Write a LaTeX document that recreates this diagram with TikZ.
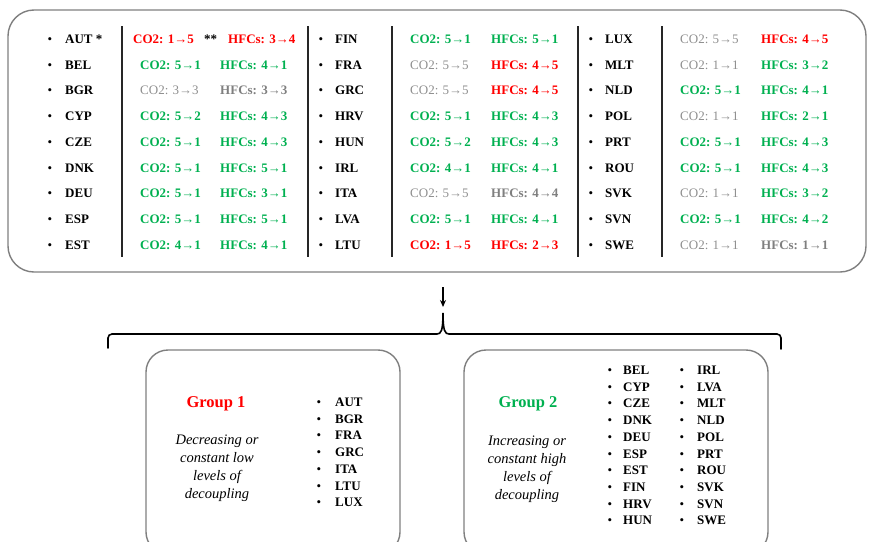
\documentclass[tikz,border=0pt]{standalone}
\usepackage{fontspec}
\setmainfont{Liberation Serif}
\usetikzlibrary{arrows.meta}
\definecolor{worsered}{HTML}{FF0000}
\definecolor{bettergreen}{HTML}{00B050}
\definecolor{samegray}{HTML}{8F8F8F}
\definecolor{samegrayb}{HTML}{7F7F7F}
\definecolor{framegray}{HTML}{7F7F7F}
\tikzset{
  cell/.style={anchor=base west, inner sep=0pt, font=\fontsize{13}{15}\selectfont\bfseries},
  worse/.style={cell, text=worsered},
  better/.style={cell, text=bettergreen},
  same/.style={cell, text=samegray, font=\fontsize{13}{15}\selectfont},
  sameb/.style={cell, text=samegrayb},
  country/.style={cell, text=black},
  dot/.style={anchor=base, inner sep=0pt, font=\fontsize{13}{15}\selectfont},
  panel/.style={draw=framegray, line width=1.4pt, rounded corners=26pt, inner sep=0pt},
  grouppanel/.style={draw=framegray, line width=1.4pt, rounded corners=22pt, inner sep=0pt},
  divider/.style={draw=black!85, line width=1.4pt},
  grouptitle/.style={anchor=center, inner sep=0pt, font=\fontsize{16.5}{18}\selectfont\bfseries},
  groupnote/.style={anchor=center, inner sep=0pt, align=center, font=\fontsize{14.5}{18}\selectfont\itshape},
  member/.style={anchor=base west, inner sep=0pt, font=\fontsize{13}{15}\selectfont\bfseries},
}
\begin{document}
\begin{tikzpicture}[x=1pt, y=-1pt]
\clip (0,0) rectangle (870,541);

% outer panel holding the country table
\node[panel, minimum width=858pt, minimum height=262pt] (table) at (437,141) {};

% column dividers
\foreach \xx/\nm in {122/d1, 308/d2, 392/d3, 578/d4, 662/d5} {
  \coordinate (\nm t) at (\xx,26);
  \coordinate (\nm b) at (\xx,257);
  \draw[divider] (\nm t) -- (\nm b);
}

% first row, with footnote marks
\node[dot] (bAUT) at (50,43.5) {•};
\node[country] (nAUT) at (65,43.5) {AUT *};
\node[worse] (cAUT) at (133,43.5) {CO2: 1→5};
\node[cell] (sAUT) at (204,43.5) {**};
\node[worse] (hAUT) at (228,43.5) {HFCs: 3→4};

% first column
\foreach \nm/\ca/\cb/\cs/\ha/\hb/\hs [count=\i] in {
  BEL/5/1/better/4/1/better,
  BGR/3/3/same/3/3/sameb,
  CYP/5/2/better/4/3/better,
  CZE/5/1/better/4/3/better,
  DNK/5/1/better/5/1/better,
  DEU/5/1/better/3/1/better,
  ESP/5/1/better/5/1/better,
  EST/4/1/better/4/1/better} {
  \pgfmathsetmacro{\yy}{43.5+25.7*\i}
  \node[dot] (b\nm) at (50,\yy) {•};
  \node[country] (n\nm) at (65,\yy) {\nm};
  \node[\cs] (c\nm) at (140,\yy) {CO2: \ca→\cb};
  \node[\hs] (h\nm) at (220,\yy) {HFCs: \ha→\hb};
}

% second column
\foreach \nm/\ca/\cb/\cs/\ha/\hb/\hs [count=\i from 0] in {
  FIN/5/1/better/5/1/better,
  FRA/5/5/same/4/5/worse,
  GRC/5/5/same/4/5/worse,
  HRV/5/1/better/4/3/better,
  HUN/5/2/better/4/3/better,
  IRL/4/1/better/4/1/better,
  ITA/5/5/same/4/4/sameb,
  LVA/5/1/better/4/1/better,
  LTU/1/5/worse/2/3/worse} {
  \pgfmathsetmacro{\yy}{43.5+25.7*\i}
  \node[dot] (b\nm) at (321,\yy) {•};
  \node[country] (n\nm) at (335,\yy) {\nm};
  \node[\cs] (c\nm) at (410,\yy) {CO2: \ca→\cb};
  \node[\hs] (h\nm) at (491,\yy) {HFCs: \ha→\hb};
}

% third column
\foreach \nm/\ca/\cb/\cs/\ha/\hb/\hs [count=\i from 0] in {
  LUX/5/5/same/4/5/worse,
  MLT/1/1/same/3/2/better,
  NLD/5/1/better/4/1/better,
  POL/1/1/same/2/1/better,
  PRT/5/1/better/4/3/better,
  ROU/5/1/better/4/3/better,
  SVK/1/1/same/3/2/better,
  SVN/5/1/better/4/2/better,
  SWE/1/1/same/1/1/sameb} {
  \pgfmathsetmacro{\yy}{43.5+25.7*\i}
  \node[dot] (b\nm) at (591,\yy) {•};
  \node[country] (n\nm) at (605,\yy) {\nm};
  \node[\cs] (c\nm) at (680,\yy) {CO2: \ca→\cb};
  \node[\hs] (h\nm) at (761,\yy) {HFCs: \ha→\hb};
}

% arrow down into the brace
\coordinate (arrtop) at (443,287);
\coordinate (arrtip) at (443,307);
\draw[line width=1.2pt, -{Stealth[length=7pt,width=6pt]}] (arrtop) -- (arrtip);

% brace splitting into the two groups
\coordinate (braceL) at (108,348);
\coordinate (braceR) at (781,349);
\coordinate (braceM) at (443,313);
\draw[line width=1.6pt, line cap=round] (braceL) -- (108,338) arc[start angle=180, end angle=90, radius=4pt]
  -- (437,334) .. controls (441,334) and (443,331) .. (braceM)
  .. controls (443,331) and (445,334) .. (449,334)
  -- (777,334) arc[start angle=90, end angle=0, radius=4pt] -- (braceR);

% group 1
\node[grouppanel, minimum width=254pt, minimum height=204pt] (g1) at (273,452) {};
\node[grouptitle, text=worsered] (g1title) at (216,404) {Group 1};
\node[groupnote] (g1note) at (217,468) {Decreasing or\\constant low\\levels of\\decoupling};
\foreach \nm [count=\i from 0] in {AUT,BGR,FRA,GRC,ITA,LTU,LUX} {
  \pgfmathsetmacro{\yy}{406.5+16.7*\i}
  \node[dot] (gb\nm) at (319,\yy) {•};
  \node[member] (gn\nm) at (335,\yy) {\nm};
}

% group 2
\node[grouppanel, minimum width=304pt, minimum height=204pt] (g2) at (616,452) {};
\node[grouptitle, text=bettergreen] (g2title) at (528,404) {Group 2};
\node[groupnote] (g2note) at (527,469) {Increasing or\\constant high\\levels of\\decoupling};
\foreach \nm [count=\i from 0] in {BEL,CYP,CZE,DNK,DEU,ESP,EST,FIN,HRV,HUN} {
  \pgfmathsetmacro{\yy}{374.5+16.7*\i}
  \node[dot] (gb\nm) at (610,\yy) {•};
  \node[member] (gn\nm) at (623,\yy) {\nm};
}
\foreach \nm [count=\i from 0] in {IRL,LVA,MLT,NLD,POL,PRT,ROU,SVK,SVN,SWE} {
  \pgfmathsetmacro{\yy}{374.5+16.7*\i}
  \node[dot] (gb\nm) at (682,\yy) {•};
  \node[member] (gn\nm) at (697,\yy) {\nm};
}
\end{tikzpicture}
\end{document}
